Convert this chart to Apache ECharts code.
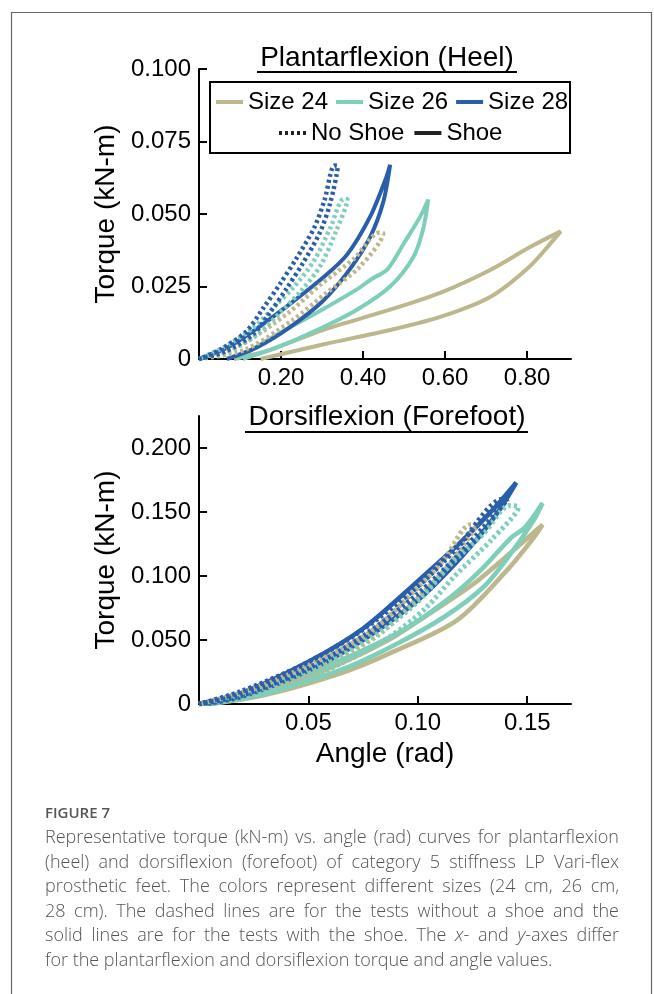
<!DOCTYPE html>
<html><head><meta charset="utf-8">
<script src="https://cdn.jsdelivr.net/npm/echarts@6/dist/echarts.min.js"></script>
<style>
html,body{margin:0;padding:0;background:#fff;}
#wrap{position:relative;width:654px;height:994px;overflow:hidden;}
#chart{position:absolute;left:0;top:0;width:654px;height:994px;}
#cap{position:absolute;left:45px;top:800px;width:574px;color:#555;font-family:'Open Sans',sans-serif;}
#fig{font-weight:600;font-size:15px;line-height:24px;height:24px;}
.ln{font-size:18px;font-weight:300;line-height:24.5px;height:24.5px;text-align:justify;text-align-last:justify;overflow:visible;}
.ln.last{text-align-last:left;}
</style></head>
<body>
<div id="wrap">
<div id="chart"></div>
<div id="cap">
<div id="fig">FIGURE 7</div>
<div class="ln">Representative torque (kN-m) vs. angle (rad) curves for plantarflexion</div>
<div class="ln">(heel) and dorsiflexion (forefoot) of category 5 stiffness LP Vari-flex</div>
<div class="ln">prosthetic feet. The colors represent different sizes (24 cm, 26 cm,</div>
<div class="ln">28 cm). The dashed lines are for the tests without a shoe and the</div>
<div class="ln">solid lines are for the tests with the shoe. The <i>x</i>- and <i>y</i>-axes differ</div>
<div class="ln last">for the plantarflexion and dorsiflexion torque and angle values.</div>
</div>
</div>
<script>
// ---------- data ----------
const sizeNames = ['Size 24', 'Size 26', 'Size 28'];
const shoeNames = ['No Shoe', 'Shoe'];
const pfTitle = 'Plantarflexion (Heel)';
const dfTitle = 'Dorsiflexion (Forefoot)';
const pfYTicks = [0, 0.025, 0.05, 0.075, 0.1];
const pfXTicks = [0.2, 0.4, 0.6, 0.8];
const dfYTicks = [0, 0.05, 0.1, 0.15, 0.2];
const dfXTicks = [0.05, 0.1, 0.15];

// Plantarflexion (heel): [angle rad, torque kN-m]
const pfSize24Shoe = [[0.15,0],[0.302,0.005],[0.466,0.010],[0.588,0.0145],[0.71,0.0214],[0.807,0.032],[0.864,0.041],[0.882,0.044],[0.807,0.0386],[0.71,0.0307],[0.588,0.0228],[0.466,0.017],[0.302,0.010],[0.17,0.003],[0.085,0]];
const pfSize26Shoe = [[0.107,0],[0.19,0.004],[0.288,0.010],[0.385,0.017],[0.466,0.025],[0.522,0.035],[0.546,0.0445],[0.559,0.055],[0.539,0.049],[0.50,0.040],[0.46,0.031],[0.42,0.0275],[0.385,0.024],[0.288,0.016],[0.18,0.0076],[0.093,0]];
const pfSize28Shoe = [[0.068,0],[0.141,0.004],[0.222,0.011],[0.302,0.020],[0.368,0.031],[0.417,0.042],[0.449,0.054],[0.466,0.067],[0.455,0.062],[0.417,0.049],[0.361,0.036],[0.302,0.028],[0.222,0.019],[0.141,0.0105],[0.07,0.004],[0,0]];
const pfSize24NoShoe = [[0,0],[0.112,0.0032],[0.228,0.0134],[0.309,0.0226],[0.392,0.0318],[0.449,0.0434],[0.441,0.0436],[0.377,0.0345],[0.295,0.0255],[0.215,0.0156],[0.1,0.0048],[0,0]];
const pfSize26NoShoe = [[0,0],[0.082,0.0032],[0.148,0.0092],[0.199,0.0162],[0.247,0.0232],[0.296,0.0322],[0.334,0.044],[0.362,0.055],[0.353,0.0552],[0.32,0.0452],[0.28,0.0338],[0.231,0.0248],[0.182,0.0178],[0.133,0.0108],[0.07,0.0048],[0,0]];
const pfSize28NoShoe = [[0,0],[0.064,0.0026],[0.131,0.0084],[0.174,0.0162],[0.213,0.0242],[0.254,0.0332],[0.295,0.0437],[0.319,0.0533],[0.338,0.0665],[0.33,0.0667],[0.306,0.0548],[0.281,0.0453],[0.238,0.0348],[0.197,0.0258],[0.158,0.0178],[0.116,0.0096],[0.054,0.0034],[0,0]];

// Dorsiflexion (forefoot): [angle rad, torque kN-m]
const dfSize24Shoe = [[0.005,0],[0.03,0.007],[0.0647,0.024],[0.0876,0.040],[0.118,0.0656],[0.141,0.105],[0.153,0.130],[0.157,0.14],[0.149,0.128],[0.126,0.0945],[0.103,0.068],[0.0876,0.051],[0.065,0.032],[0.04,0.015],[0,0]];
const dfSize26Shoe = [[0.005,0],[0.03,0.008],[0.0647,0.0266],[0.0876,0.0445],[0.112,0.068],[0.130,0.0914],[0.1427,0.118],[0.153,0.1437],[0.157,0.157],[0.149,0.138],[0.1427,0.130],[0.129,0.105],[0.115,0.0836],[0.0954,0.060],[0.0725,0.040],[0.0495,0.024],[0.02,0.006],[0,0]];
const dfSize28Shoe = [[0.003,0],[0.02,0.006],[0.05,0.026],[0.075,0.050],[0.10,0.081],[0.12,0.115],[0.135,0.146],[0.145,0.173],[0.135,0.153],[0.12,0.127],[0.10,0.096],[0.075,0.059],[0.05,0.033],[0.02,0.009],[0,0]];
const dfSize24NoShoe = [[0,0],[0.03,0.011],[0.06,0.033],[0.082,0.054],[0.103,0.088],[0.115,0.110],[0.127,0.14],[0.124,0.14],[0.112,0.113],[0.1,0.091],[0.079,0.057],[0.057,0.036],[0.027,0.013],[0,0]];
const dfSize26NoShoe = [[0,0],[0.03,0.008],[0.0495,0.020],[0.0725,0.038],[0.0876,0.053],[0.103,0.074],[0.118,0.102],[0.1335,0.128],[0.146,0.154],[0.142,0.155],[0.13,0.133],[0.115,0.109],[0.1,0.08],[0.085,0.059],[0.07,0.043],[0.047,0.024],[0.027,0.011],[0,0]];
const dfSize28NoShoe = [[0,0],[0.02,0.007],[0.05,0.028],[0.075,0.053],[0.10,0.086],[0.12,0.119],[0.141,0.160],[0.139,0.160],[0.118,0.122],[0.098,0.089],[0.073,0.056],[0.048,0.031],[0.018,0.009],[0,0]];

// ---------- styling ----------
const colors = ['#BDB78E', '#7ECFB9', '#2A5EAB'];
const FONT = '"Liberation Sans", Arial, sans-serif';

(function fitCaption(){
  const lines = document.querySelectorAll('.ln');
  const c = document.createElement('canvas').getContext('2d');
  let fs = 18;
  for (let k = 0; k < 40; k++) {
    c.font = '300 ' + fs + 'px "Open Sans"';
    let mx = 0;
    lines.forEach(l => { mx = Math.max(mx, c.measureText(l.textContent).width); });
    if (mx <= 566) break;
    fs -= 0.25;
  }
  lines.forEach(l => l.style.fontSize = fs + 'px');
})();

const chart = echarts.init(document.getElementById('chart'), null, {renderer: 'canvas'});

function axisCommon() {
  return {
    axisLine: {show: true, onZero: false, lineStyle: {color: '#000', width: 2}},
    axisTick: {show: true, inside: true, length: 8, lineStyle: {color: '#000', width: 2}},
    splitLine: {show: false},
    axisLabel: {color: '#000', fontSize: 24, fontFamily: FONT},
    nameTextStyle: {color: '#000', fontSize: 28, fontFamily: FONT}
  };
}

function mkX(idx, max, ticks, name) {
  const a = axisCommon();
  return Object.assign(a, {
    type: 'value', gridIndex: idx, min: 0, max: max,
    name: name || '', nameLocation: 'middle', nameGap: 36,
    axisTick: Object.assign(a.axisTick, {customValues: ticks}),
    axisLabel: Object.assign(a.axisLabel, {customValues: ticks, margin: 7, formatter: v => v.toFixed(2)})
  });
}
function mkY(idx, max, ticks) {
  const a = axisCommon();
  return Object.assign(a, {
    type: 'value', gridIndex: idx, min: 0, max: max,
    name: 'Torque (kN-m)', nameLocation: 'middle', nameGap: 78,
    axisTick: Object.assign(a.axisTick, {customValues: ticks}),
    axisLabel: Object.assign(a.axisLabel, {customValues: ticks, margin: 8, formatter: v => v === 0 ? '0' : v.toFixed(3)})
  });
}

function ser(name, data, color, dotted, gi) {
  const w = gi === 0 ? 4 : 4.6;
  return {
    type: 'line', name: name, xAxisIndex: gi, yAxisIndex: gi, data: data,
    symbol: 'none', showSymbol: false, smooth: 0.3, animation: false,
    lineStyle: dotted ? {color: color, width: w + 0.5, type: [3, 3], cap: 'butt'} : {color: color, width: w},
    itemStyle: {color: color}, z: dotted ? 3 : 2
  };
}

const series = [
  ser('Size 24', pfSize24Shoe, colors[0], false, 0),
  ser('Size 26', pfSize26Shoe, colors[1], false, 0),
  ser('Size 28', pfSize28Shoe, colors[2], false, 0),
  ser('PF 24 no shoe', pfSize24NoShoe, colors[0], true, 0),
  ser('PF 26 no shoe', pfSize26NoShoe, colors[1], true, 0),
  ser('PF 28 no shoe', pfSize28NoShoe, colors[2], true, 0),
  ser('DF 24 shoe', dfSize24Shoe, colors[0], false, 1),
  ser('DF 26 shoe', dfSize26Shoe, colors[1], false, 1),
  ser('DF 28 shoe', dfSize28Shoe, colors[2], false, 1),
  ser('DF 24 no shoe', dfSize24NoShoe, colors[0], true, 1),
  ser('DF 26 no shoe', dfSize26NoShoe, colors[1], true, 1),
  ser('DF 28 no shoe', dfSize28NoShoe, colors[2], true, 1),
  ser(shoeNames[0], [], '#222', true, 0),
  ser(shoeNames[1], [], '#222', false, 0)
];

const legendText = {color: '#000', fontSize: 24, fontFamily: FONT};
const legendCommon = {z: 10, orient: 'horizontal', itemWidth: 27, itemHeight: 14, textStyle: legendText, selectedMode: false, padding: 0,
  itemStyle: {opacity: 0, borderWidth: 0}, lineStyle: {width: 4}};

chart.setOption({
  animation: false,
  grid: [
    {left: 199, top: 69, width: 372, height: 290},
    {left: 199, top: 416, width: 372, height: 288}
  ],
  xAxis: [mkX(0, 0.907, pfXTicks), mkX(1, 0.17, dfXTicks, 'Angle (rad)')],
  yAxis: [mkY(0, 0.1, pfYTicks), mkY(1, 0.225, dfYTicks)],
  legend: [
    Object.assign({data: sizeNames, left: 214, top: 90, itemGap: 6}, legendCommon),
    Object.assign({data: shoeNames, left: 277, top: 121, itemGap: 8}, legendCommon)
  ],
  graphic: [
    {type: 'rect', shape: {x: 11.5, y: 12.5, width: 640, height: 1000}, style: {fill: 'none', stroke: '#666', lineWidth: 1.2}, silent: true, z: 0},
    {type: 'rect', shape: {x: 210, y: 82, width: 360, height: 71}, style: {fill: 'none', stroke: '#000', lineWidth: 2}, z: 1, silent: true},
    {type: 'text', x: 387, y: 58.5, style: {text: pfTitle, fontSize: 28, fontFamily: FONT, fill: '#000', align: 'center', verticalAlign: 'middle'}},
    {type: 'line', shape: {x1: 257, y1: 72, x2: 517, y2: 72}, style: {stroke: '#000', lineWidth: 2}},
    {type: 'text', x: 387, y: 417.5, style: {text: dfTitle, fontSize: 28, fontFamily: FONT, fill: '#000', align: 'center', verticalAlign: 'middle'}},
    {type: 'line', shape: {x1: 245, y1: 432, x2: 528, y2: 432}, style: {stroke: '#000', lineWidth: 2}}
  ],
  series: series
});
</script>
</body></html>
